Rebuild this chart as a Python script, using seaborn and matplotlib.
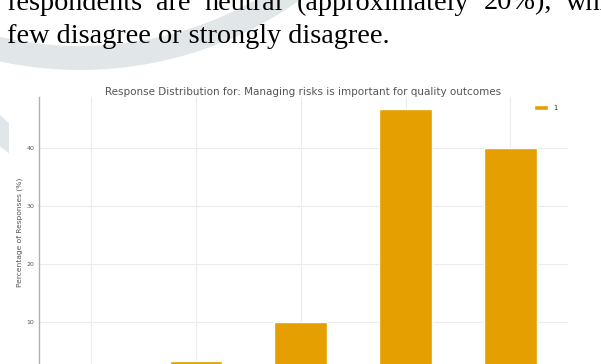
import matplotlib
matplotlib.use("Agg")
import matplotlib.pyplot as plt
from matplotlib.patches import Wedge, Rectangle
import pandas as pd
import seaborn as sns

# Survey item and response shares (%)
categories = ["Strongly Disagree", "Disagree", "Neutral", "Agree", "Strongly Agree"]
percentages = [0.0, 3.3, 10.0, 46.7, 40.0]
series_name = "1"
title = "Response Distribution for: Managing risks is important for quality outcomes"
y_label = "Percentage of Responses (%)"
y_ticks = [10, 20, 30, 40]
body_lines = [
    "respondents are neutral (approximately 20%), while a",
    "few disagree or strongly disagree.",
]

W, H = 601, 364
sns.set_theme(style="whitegrid")
plt.rcParams["font.family"] = ["DejaVu Sans"]

fig = plt.figure(figsize=(W / 100, H / 100), dpi=100)
fig.patch.set_facecolor("white")

# Page layer: faint logo watermark and the white panel holding the chart
page = fig.add_axes([0, 0, 1, 1], zorder=0)
page.set_xlim(0, W)
page.set_ylim(H, 0)
page.axis("off")
wm = "#e1e6e9"
page.add_patch(Wedge((80, -311), 381, 0, 360, width=24, color=wm, lw=0))
page.add_patch(Wedge((300, -200), 458, 0, 360, width=23, color=wm, lw=0))
page.add_patch(Rectangle((9, 70), W - 9, H - 70, color="white", lw=0))

# Paragraph text above the figure (first line is justified, last line is not)
body_font = dict(family="Liberation Serif", fontsize=20.3, color="black",
                 va="baseline", ha="left")
margin_px = 7
words = body_lines[0].split(" ")
word_texts = [fig.text(0, 1 - 9.5 / H, w, **body_font) for w in words]
fig.text(margin_px / W, 1 - 43.3 / H, body_lines[1], **body_font)

fig.canvas.draw()
renderer = fig.canvas.get_renderer()
widths = [t.get_window_extent(renderer).width for t in word_texts]
# justify so that the word "while" begins near the right edge of the column
target_idx = words.index("while")
target_x = 566
gap = (target_x - margin_px - sum(widths[:target_idx])) / target_idx
x = margin_px
for t, w in zip(word_texts, widths):
    t.set_x(x / W)
    x += w + gap

# Chart axes (the lower part runs past the bottom edge of the page)
left_px, right_px, top_px, zero_px = 38.6, 568, 97, 380
ax = fig.add_axes([left_px / W, (H - zero_px) / H,
                   (right_px - left_px) / W, (zero_px - top_px) / H], zorder=1)

df = pd.DataFrame({"Response": categories, "Percentage": percentages,
                   "Series": series_name})
sns.barplot(data=df, x="Response", y="Percentage", hue="Series",
            palette=["#E69F00"], saturation=1, width=0.5, ax=ax)

txt = "#555555"
ax.set_title(title, fontsize=7.45, color=txt, pad=1.5)
ax.set_ylabel(y_label, fontsize=5.4, color=txt)
ax.yaxis.set_label_coords(-0.029, 0.521)
ax.set_xlabel("")
ax.set_xticklabels([])
ax.set_xlim(-0.5, 4.55)
ax.set_ylim(0, 48.8)
ax.set_yticks(y_ticks)
ax.tick_params(axis="both", labelsize=4.5, colors=txt, length=0, pad=3)
ax.xaxis.grid(True)
ax.yaxis.grid(True)
ax.grid(color="#ececec", lw=0.8)
ax.set_axisbelow(True)
for side in ["top", "right", "bottom"]:
    ax.spines[side].set_visible(False)
ax.spines["left"].set_color("#b0b0b0")
ax.spines["left"].set_linewidth(1.0)

handles, labels = ax.get_legend_handles_labels()
ax.legend(handles, labels, loc="upper right", fontsize=4.8, frameon=False,
          handlelength=2, borderaxespad=1.0, bbox_to_anchor=(0.997, 1.006))

fig.savefig("out.png", dpi=100)
